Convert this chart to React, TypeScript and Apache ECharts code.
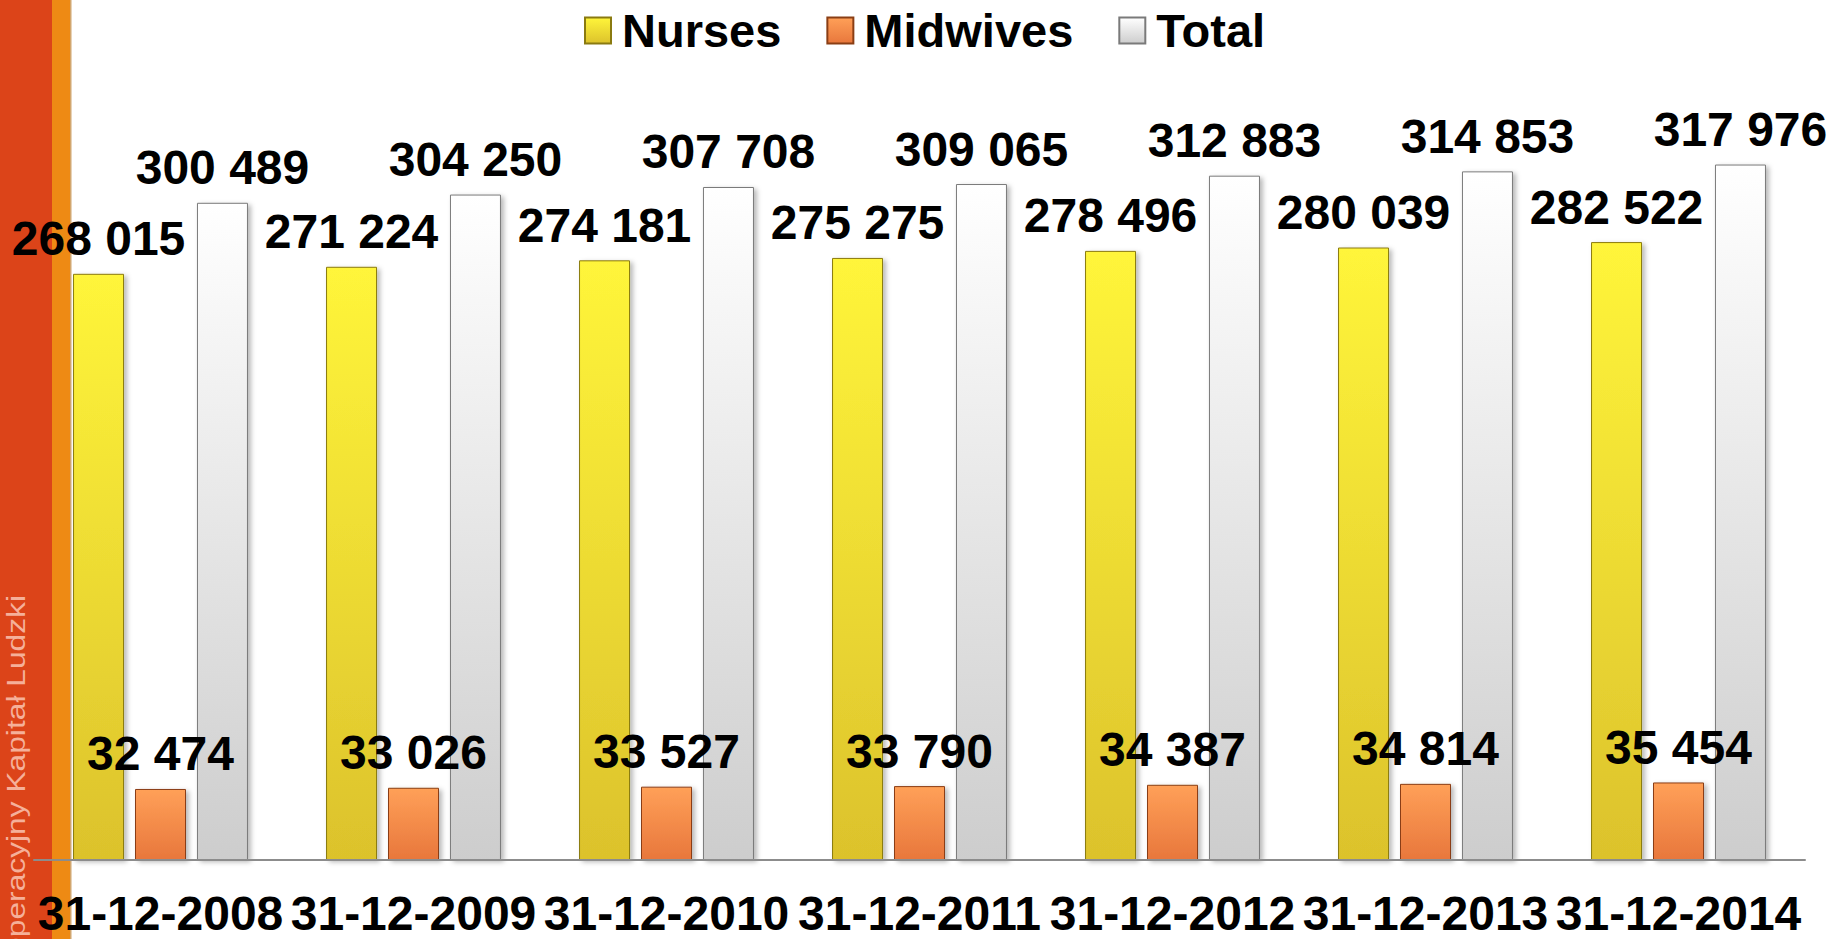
import React, { useEffect, useRef } from "react";
import * as echarts from "echarts";

const categories = [
  "31-12-2008",
  "31-12-2009",
  "31-12-2010",
  "31-12-2011",
  "31-12-2012",
  "31-12-2013",
  "31-12-2014",
];
const nurses = [268015, 271224, 274181, 275275, 278496, 280039, 282522];
const midwives = [32474, 33026, 33527, 33790, 34387, 34814, 35454];
const total = [300489, 304250, 307708, 309065, 312883, 314853, 317976];
const seriesNames = ["Nurses", "Midwives", "Total"];
const sideText = "Program Operacyjny Kapitał Ludzki";

const FONT = "'Liberation Sans', Arial, sans-serif";

const fmt = (v: number) => {
  const s = String(Math.round(v));
  return s.replace(/\B(?=(\d{3})+(?!\d))/g, " ");
};

const grad = (top: string, bottom: string) =>
  new echarts.graphic.LinearGradient(0, 0, 0, 1, [
    { offset: 0, color: top },
    { offset: 1, color: bottom },
  ]);

export default function App() {
  const ref = useRef<HTMLDivElement>(null);

  useEffect(() => {
    if (!ref.current) return;
    const chart = echarts.init(ref.current, undefined, { renderer: "svg" });

    const styles = [
      { fill: grad("#fff53a", "#dcc22c"), border: "#8a7a10" },
      { fill: grad("#ffa058", "#e8773c"), border: "#8a3e14" },
      { fill: grad("#ffffff", "#cdcdcd"), border: "#7a7a7a" },
    ];
    const datas = [nurses, midwives, total];

    const series = datas.map((d, i) => ({
      name: seriesNames[i],
      type: "bar",
      data: d,
      barWidth: 51,
      barGap: "21.5%",
      itemStyle: {
        color: styles[i].fill,
        borderColor: styles[i].border,
        borderWidth: 1,
        shadowColor: "rgba(0,0,0,0.28)",
        shadowBlur: 5,
        shadowOffsetX: 3,
        shadowOffsetY: 2,
      },
      label: {
        show: true,
        position: "top",
        distance: 11,
        formatter: (p: any) => fmt(p.value),
        color: "#000",
        fontFamily: FONT,
        fontWeight: "bold",
        fontSize: 48,
      },
      z: 3,
    }));

    chart.setOption({
      animation: false,
      backgroundColor: "#ffffff",
      legend: {
        data: seriesNames,
        top: 2,
        left: 579,
        itemWidth: 26,
        itemHeight: 26,
        itemGap: 45,
        icon: "rect",
        textStyle: {
          color: "#000",
          fontFamily: FONT,
          fontWeight: "bold",
          fontSize: 47,
          padding: [0, 0, 0, 6],
        },
      },
      grid: {
        left: 34,
        right: 26,
        top: 94.5,
        bottom: 79,
        containLabel: false,
      },
      xAxis: {
        type: "category",
        data: categories,
        axisLine: { show: true, lineStyle: { color: "#8c8c8c", width: 2 } },
        axisTick: { show: false },
        axisLabel: {
          interval: 0,
          margin: 33,
          lineHeight: 40,
          color: "#000",
          fontFamily: FONT,
          fontWeight: "bold",
          fontSize: 48,
        },
        z: 5,
      },
      yAxis: {
        type: "value",
        min: 0,
        max: 350000,
        show: false,
        splitLine: { show: false },
      },
      graphic: {
        elements: [
          {
            type: "rect",
            z: -10,
            shape: { x: 0, y: 0, width: 52, height: 939 },
            style: { fill: "#dc4419" },
          },
          {
            type: "rect",
            z: -10,
            shape: { x: 52, y: 0, width: 18, height: 939 },
            style: { fill: "#ee8a14" },
          },
          {
            type: "rect",
            z: -10,
            shape: { x: 70, y: 0, width: 1.5, height: 939 },
            style: { fill: "#d2a66e" },
          },
          {
            type: "text",
            z: -9,
            x: 16,
            y: 595,
            rotation: Math.PI / 2,
            scaleX: 1.27,
            style: {
              text: sideText,
              fill: "#f5b09a",
              font: `25px ${FONT}`,
              textAlign: "right",
              textVerticalAlign: "middle",
            },
          },
        ],
      },
      series,
    });

    return () => chart.dispose();
  }, []);

  return (
    <div
      ref={ref}
      style={{ position: "absolute", left: 0, top: 0, width: 1831, height: 939 }}
    />
  );
}
